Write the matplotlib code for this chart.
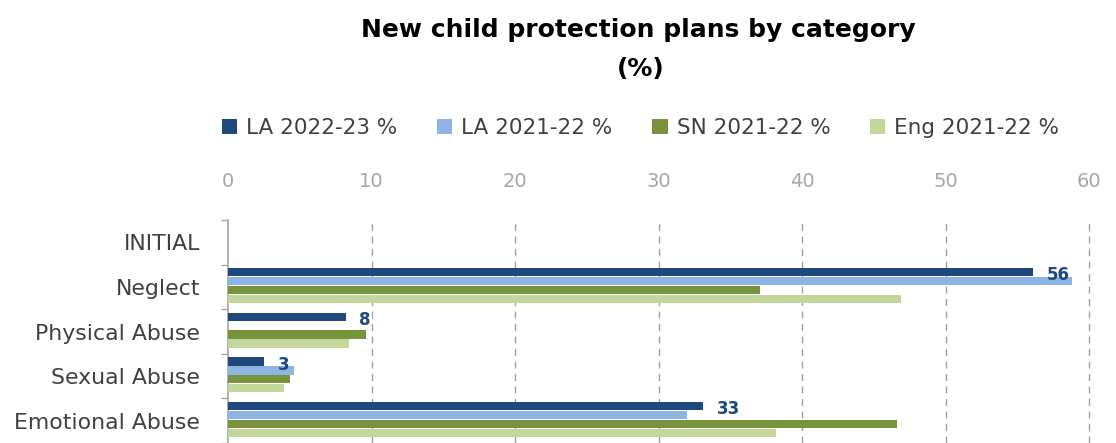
import matplotlib
matplotlib.use("Agg")
import matplotlib.pyplot as plt
import numpy as np

categories = ["INITIAL", "Neglect", "Physical Abuse", "Sexual Abuse", "Emotional Abuse"]
series_names = ["LA 2022-23 %", "LA 2021-22 %", "SN 2021-22 %", "Eng 2021-22 %"]
la_2223 = [np.nan, 56.1, 8.2, 2.5, 33.1]
la_2122 = [np.nan, 58.8, 0.0, 4.6, 32.0]
sn_2122 = [np.nan, 37.1, 9.6, 4.3, 46.6]
eng_2122 = [np.nan, 46.9, 8.4, 3.9, 38.2]
labels_2223 = ["", "56", "8", "3", "33"]
x_ticks = [0, 10, 20, 30, 40, 50, 60]

colors = ["#1F497D", "#8DB4E2", "#77933C", "#C4D79B"]

plt.rcParams['font.family'] = ['DejaVu Sans']

fig = plt.figure(figsize=(11.16, 4.43), dpi=100)
ax = fig.add_axes([228/1116, 0.0, (1089-228)/1116, (443-220)/443])

y = np.arange(len(categories))
h = 0.19
offs = [-0.33, -0.13, 0.07, 0.27]
for vals, off, c, name in zip([la_2223, la_2122, sn_2122, eng_2122], offs, colors, series_names):
    ax.barh(y + off, vals, height=h, color=c, label=name, zorder=3)

for yi, v, lab in zip(y, la_2223, labels_2223):
    if lab:
        ax.text(v + 0.95, yi + offs[0] + 0.07, lab, color="#1F497D", fontsize=12,
                fontweight="bold", va="center", ha="left", zorder=4)

ax.set_xlim(0, 60)
ax.set_ylim(4.43, -0.5)
ax.set_xticks(x_ticks)
ax.xaxis.tick_top()
ax.tick_params(axis="x", length=0, pad=21, labelsize=14, labelcolor="#A6A6A6")
ax.set_yticks(y)
ax.set_yticklabels(categories)
ax.tick_params(axis="y", which="major", length=0, pad=20, labelsize=15.8, labelcolor="#404040")
ax.set_yticks(np.arange(-0.5, 5.0, 1.0), minor=True)
ax.tick_params(axis="y", which="minor", length=5, width=1, color="#A6A6A6", direction="out")

ax.grid(axis="x", linestyle=(0, (5, 4)), color="#A0A0A0", linewidth=1, zorder=0)
gl = ax.xaxis.get_gridlines()
gl[0].set_visible(False)
for g in gl:
    g.set_clip_on(False)
for s in ["top", "right", "bottom"]:
    ax.spines[s].set_visible(False)
ax.spines["left"].set_color("#A6A6A6")
ax.spines["left"].set_linewidth(1.2)

fig.text(0.572, 1 - 30/443, "New child protection plans by category", ha="center", va="center",
         fontsize=18, fontweight="bold", color="#000000")
fig.text(0.574, 1 - 69/443, "(%)", ha="center", va="center",
         fontsize=18, fontweight="bold", color="#000000")

leg = fig.legend(loc="center", bbox_to_anchor=(0.574, 1 - 128/443), ncol=4, frameon=False,
                 fontsize=15.5, handlelength=0.7, handleheight=0.7, handletextpad=0.42,
                 columnspacing=1.86, labelcolor="#404040", borderpad=0, borderaxespad=0)

fig.savefig("out.png", dpi=100)
